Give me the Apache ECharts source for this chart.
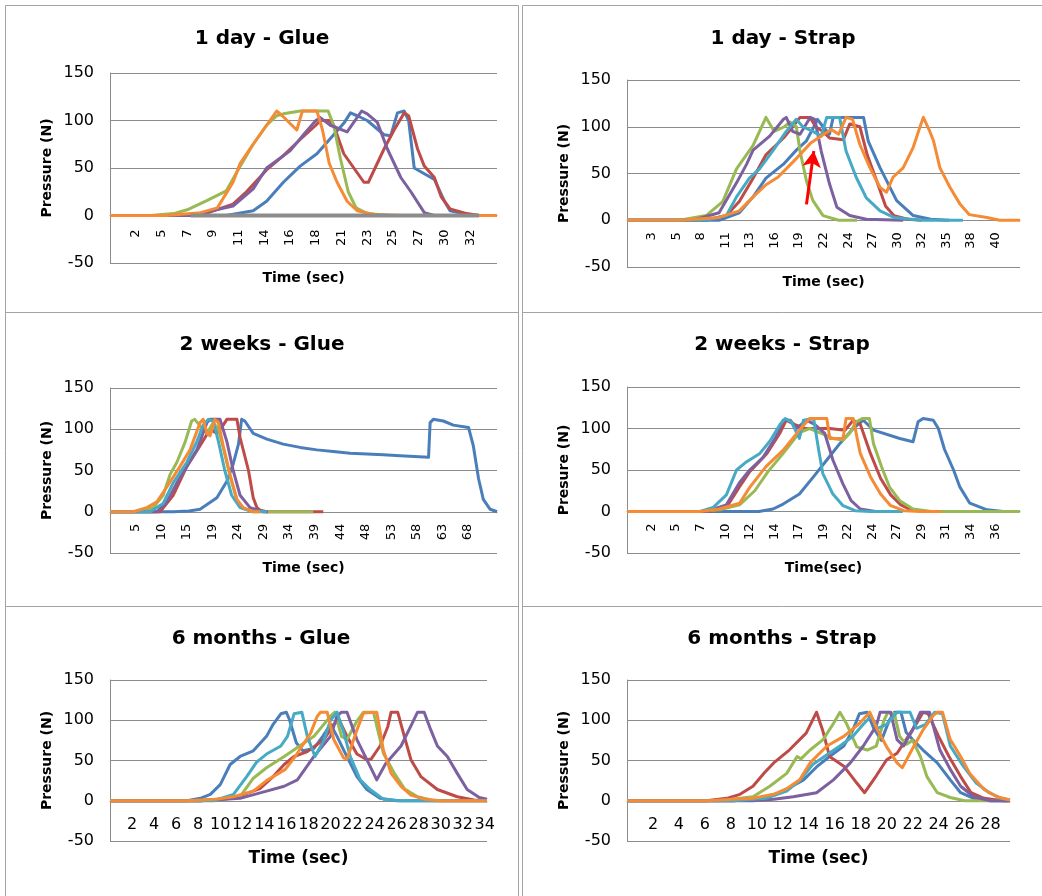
<!DOCTYPE html>
<html>
<head>
<meta charset="utf-8">
<title>Pressure vs time</title>
<script src="https://cdn.jsdelivr.net/npm/echarts/dist/echarts.min.js"></script>
<style>
  html, body { margin: 0; padding: 0; background: #fff; }
  #chart { width: 1042px; height: 896px; }
</style>
</head>
<body>
<div id="chart"></div>
<script>
// ---- data (time in sec, pressure in N) ----
var titles = ['1 day - Glue', '1 day - Strap', '2 weeks - Glue', '2 weeks - Strap', '6 months - Glue', '6 months - Strap'];
var xNames = ['Time (sec)', 'Time (sec)', 'Time (sec)', 'Time(sec)', 'Time (sec)', 'Time (sec)'];
var yNames = ['Pressure (N)', 'Pressure (N)', 'Pressure (N)', 'Presure (N)', 'Pressure (N)', 'Pressure (N)'];

var ticks1 = [2, 5, 7, 9, 11, 14, 16, 18, 21, 23, 25, 27, 30, 32];
var ticks2 = [3, 5, 8, 11, 13, 16, 19, 22, 24, 27, 30, 32, 35, 38, 40];
var ticks3 = [5, 10, 15, 19, 24, 29, 34, 39, 44, 48, 53, 58, 63, 68];
var ticks4 = [2, 5, 7, 10, 12, 14, 17, 19, 22, 24, 27, 29, 31, 34, 36];
var ticks5 = [2, 4, 6, 8, 10, 12, 14, 16, 18, 20, 22, 24, 26, 28, 30, 32, 34];
var ticks6 = [2, 4, 6, 8, 10, 12, 14, 16, 18, 20, 22, 24, 26, 28];

// 1 day - Glue
var d1gBlue = [[0,0],[10.4,0],[12.8,5],[14,15],[15.5,35],[17,52],[18.5,65],[20,85],[20.9,97],[21.5,108],[22.1,105],[23,100],[24.5,85],[25.1,84],[25.7,108],[26.3,110],[26.7,100],[27.2,50],[28.1,44],[29,38],[29.9,15],[30.4,5],[32,1],[33,0]];
var d1gRed = [[0,0],[8,0],[11,12],[12.2,25],[14,48],[15.5,63],[17,80],[18.4,95],[18.8,100],[19.6,100],[20,95],[20.9,65],[21.8,50],[22.7,35],[23.1,35],[24.5,70],[25.4,90],[26.3,108],[26.7,105],[27.5,70],[28.1,52],[29,40],[29.6,20],[30.4,7],[31.9,2],[33,0]];
var d1gGreen = [[0,0],[3.6,0],[5.7,2],[6.9,6],[8.7,16],[10.4,26],[11.6,51],[12.8,75],[14,95],[14.9,105],[15.5,107],[17,110],[19.5,110],[20,95],[20.6,60],[21.3,25],[22,8],[23,2],[25,0],[33,0]];
var d1gPurple = [[0,0],[7.2,0],[11,10],[12.8,28],[14,50],[16.1,68],[17.3,85],[18.4,100],[18.8,103],[19.7,95],[21.2,88],[22.5,110],[23,107],[23.9,98],[24.8,70],[26,40],[26.9,25],[28.1,3],[29,0],[33,0]];
var d1gOrange = [[0,0],[5,0],[8.1,3],[9.6,8],[11,35],[11.6,54],[12.5,70],[13.4,85],[14.3,100],[14.9,110],[15.4,105],[16.7,90],[17.2,110],[18.5,110],[19,90],[19.6,55],[20.3,35],[21.2,15],[22.1,5],[23.6,1],[26,0],[34.6,0]];
var d1gGray = [[7.2,0],[33,0]];

// 1 day - Strap
var d1sBlue = [[0,0],[10,0],[12.2,8],[13.7,25],[15.1,45],[17,60],[18.4,75],[19.5,85],[20.3,100],[20.7,108],[21.3,100],[22,92],[22.4,110],[25.7,110],[26.2,85],[27.5,56],[29.3,21],[31.1,5],[33,1],[35,0]];
var d1sRed = [[0,0],[8.6,0],[10.8,5],[12.2,20],[13.7,45],[15.1,70],[17,88],[18,100],[18.8,110],[19.9,110],[20.5,100],[21.3,95],[22,88],[23.5,86],[24.2,103],[25.3,100],[26.1,70],[27.2,40],[28.1,15],[29,5],[30.5,1],[32,0]];
var d1sGreen = [[0,0],[5.7,0],[8.6,5],[10.4,20],[11.9,55],[13.7,80],[15.1,110],[16,95],[17.1,100],[17.7,105],[18.4,100],[18.8,74],[19.5,42],[20.2,21],[21.3,5],[23,0],[25,0]];
var d1sPurple = [[0,0],[7.2,0],[10,8],[11.9,40],[13,60],[13.7,75],[15.5,90],[17,108],[17.3,110],[18,95],[18.8,92],[19.9,110],[20.4,108],[21.1,74],[22,39],[22.8,14],[24.2,5],[26,1],[30,0]];
var d1sCyan = [[0,0],[8.6,0],[10.8,5],[11.9,25],[13.3,45],[14.4,55],[15.9,75],[17.3,95],[18.4,108],[19.1,100],[20.2,95],[21.1,90],[21.7,110],[23.1,110],[23.8,74],[24.9,46],[26,24],[27.5,10],[29,3],[32,0],[36.5,0]];
var d1sOrange = [[0,0],[5.7,0],[10,3],[12.2,10],[13.7,25],[15.1,38],[16.4,46],[18.2,64],[20,83],[21.1,90],[22.2,97],[23,92],[23.8,110],[24.5,108],[25.3,81],[26.4,56],[27.5,35],[28.2,30],[28.9,46],[30,56],[31.1,78],[31.8,99],[32.2,110],[32.9,95],[33.3,85],[34,56],[35.1,35],[36.2,17],[37.2,6],[39.1,3],[40.5,0],[42.7,0]];
var d1sArrow = [[19.5,17],[20.3,74]];

// 2 weeks - Glue
var w2gBlue = [[0,0],[12,0],[15,1],[17.1,3],[20.3,17],[22.2,37],[23.4,58],[24.4,82],[25,112],[25.6,110],[27.2,95],[29.8,88],[32.9,82],[36.1,78],[39.3,75],[42.4,73],[45.6,71],[48.8,70],[51.9,69],[55.1,68],[60.5,66],[60.8,108],[61.4,112],[63.3,110],[65.2,105],[68.1,102],[69,80],[70,40],[70.9,15],[72.2,3],[73.5,0]];
var w2gRed = [[0,0],[9.5,0],[12,20],[14.6,55],[17.1,80],[19,100],[20.3,95],[21.5,105],[22.2,112],[24.1,112],[24.7,90],[26.3,50],[27.2,17],[27.9,5],[28.5,2],[29.8,0],[40.5,0]];
var w2gGreen = [[0,0],[5.7,0],[8.2,5],[10.1,20],[11.4,45],[12.7,60],[14.3,85],[15.5,110],[16.1,112],[17,105],[18.4,95],[19.6,108],[20.6,100],[21.5,78],[22.8,43],[24.1,14],[25.3,4],[27.2,0],[38.6,0]];
var w2gPurple = [[0,0],[8.9,0],[10.8,12],[12.7,35],[14.6,55],[16.5,75],[18.4,108],[19,112],[20.9,112],[22.2,85],[23.4,50],[24.7,20],[26.6,5],[29.1,0],[30,0]];
var w2gCyan = [[0,0],[7.6,0],[10.1,10],[12,35],[14.6,60],[16.5,85],[17.7,105],[18.7,112],[19.6,110],[20.6,85],[21.8,50],[23.1,20],[24.7,5],[26.6,1],[29.8,0]];
var w2gOrange = [[0,0],[4.4,0],[7,5],[8.9,12],[10.8,30],[13.3,55],[15.2,75],[17.1,108],[17.7,112],[18.4,95],[19,92],[19.9,112],[20.6,108],[21.5,80],[22.8,45],[24.1,15],[25.3,5],[27.2,0],[28.5,0]];

// 2 weeks - Strap
var w2sBlue = [[0,0],[13,0],[14.4,3],[15.4,9],[17,21],[18.4,42],[19.7,62],[21,82],[22.3,100],[23.3,110],[24.3,98],[26.9,88],[28.2,84],[28.7,108],[29.2,112],[30.2,110],[30.7,100],[31.3,75],[32.2,50],[32.8,30],[33.8,10],[35.5,2],[37.1,0],[38.7,0]];
var w2sRed = [[0,0],[8.2,0],[9.8,5],[11.1,30],[12.1,48],[13.8,70],[15.1,95],[15.7,110],[16.5,105],[17.5,100],[20,100],[21.5,98],[22.3,110],[23,105],[24,70],[25,40],[26,20],[27,8],[28,2],[29.5,0]];
var w2sGreen = [[0,0],[7.2,0],[9.1,2],[11.1,8],[12.6,25],[13.9,48],[15.4,70],[17,95],[18,100],[19,95],[20.3,88],[21.3,86],[22,95],[22.6,108],[23.2,112],[23.9,112],[24.3,82],[25.1,54],[25.9,29],[26.9,13],[28.2,3],[30,0],[38.7,0]];
var w2sPurple = [[0,0],[7.8,0],[9.8,8],[11.1,35],[12.1,50],[13.4,65],[14.7,90],[15.4,110],[16.1,110],[16.7,100],[17.7,110],[18.5,105],[19.5,94],[20.3,62],[21.3,33],[22.1,13],[23,3],[24.5,0],[26,0]];
var w2sCyan = [[0,0],[7.2,0],[8.5,5],[9.8,20],[10.8,50],[11.8,60],[13.1,70],[14.1,85],[15.1,105],[15.6,112],[16.2,108],[17,88],[17.4,110],[18.4,112],[18.9,74],[19.3,46],[20.3,21],[21.3,7],[22.5,1],[24,0],[27.2,0]];
var w2sOrange = [[0,0],[7.2,0],[9.1,3],[11.1,10],[12.1,29],[13.7,54],[15.4,74],[17,98],[18,112],[19.7,112],[20,88],[21.3,88],[21.6,112],[22.3,112],[23,70],[24,42],[25,21],[26,7],[27.3,1],[29,0],[31,0]];

// 6 months - Glue
var m6gBlue = [[0,0],[7,0],[8.2,3],[9.1,8],[10,20],[10.9,45],[11.8,55],[13,62],[14.2,80],[14.8,95],[15.5,108],[16,110],[16.3,100],[16.9,72],[17.5,62],[18.5,65],[19.3,80],[20,95],[20.6,80],[21.2,63],[22.4,30],[23.3,14],[24.5,3],[26,0],[34.2,0]];
var m6gRed = [[0,0],[8.2,0],[11.2,3],[13.6,15],[14.8,30],[15.8,45],[16.7,55],[17.9,61],[19.4,76],[20.3,95],[20.8,100],[21.5,80],[22.4,58],[23.3,51],[23.7,52],[24.5,68],[25.2,92],[25.5,110],[26.1,110],[26.7,80],[27.3,51],[28.2,30],[29.7,14],[31.5,5],[33,1],[34.2,0]];
var m6gGreen = [[0,0],[8.2,0],[10.6,3],[11.8,5],[13,28],[14.2,41],[15.8,55],[18.5,80],[20,105],[20.4,110],[21,80],[21.5,76],[22.4,99],[23,110],[23.9,110],[24.8,59],[25.8,34],[26.7,15],[27.9,5],[29.4,0],[34.2,0]];
var m6gPurple = [[0,0],[8.2,0],[11.8,3],[14.2,12],[15.8,18],[17,26],[18.5,55],[20,80],[20.6,105],[21,110],[21.5,110],[22.4,76],[23.3,51],[24.2,26],[25,46],[26.4,68],[27.3,93],[27.9,110],[28.5,110],[29.1,88],[29.7,68],[30.6,55],[31.5,34],[32.4,14],[33.5,4],[34.2,2]];
var m6gCyan = [[0,0],[9.4,0],[11.2,8],[12.4,30],[13.3,48],[14.2,58],[15.5,68],[16.1,80],[16.7,108],[17.4,110],[17.9,80],[18.6,55],[19.4,75],[20,100],[20.6,110],[21.2,85],[21.8,55],[22.7,26],[23.6,14],[24.8,2],[26.4,0],[34.2,0]];
var m6gOrange = [[0,0],[7,0],[9.7,2],[11.2,5],[13,12],[14.2,25],[15.9,39],[16.8,55],[18.2,84],[18.8,105],[19.1,110],[19.7,110],[20.3,76],[21.2,53],[21.5,52],[22.4,88],[23,109],[24.2,110],[24.8,63],[25.5,34],[26.4,18],[27.3,7],[28.5,2],[30,0],[34.2,0]];

// 6 months - Strap
var m6sBlue = [[0,0],[8.2,0],[10.2,3],[11.8,10],[13.6,26],[14.6,42],[15.6,55],[16.7,68],[17.4,88],[17.9,108],[18.5,110],[19,90],[19.6,75],[20.2,100],[20.6,110],[21.1,110],[21.5,85],[22,76],[22.8,63],[23.9,47],[24.9,26],[25.7,10],[26.7,3],[28,0],[29.5,0]];
var m6sRed = [[0,0],[6.1,0],[7.7,3],[8.7,8],[9.7,18],[10.6,35],[11.3,47],[12.5,63],[13.8,84],[14.6,110],[15.1,86],[15.6,55],[16.7,43],[17.7,22],[18.3,10],[19.2,31],[20,51],[20.8,59],[21.5,76],[22.3,96],[22.8,110],[23.2,108],[24,80],[24.8,55],[25.7,30],[26.5,10],[27.5,3],[29,0],[29.5,0]];
var m6sGreen = [[0,0],[7.1,0],[9.7,5],[11,18],[12.3,34],[13.1,55],[13.4,52],[14.1,63],[15.1,76],[15.9,96],[16.4,110],[16.9,96],[17.7,67],[18.5,63],[19.2,68],[19.8,100],[20.1,110],[20.6,108],[21,80],[21.5,70],[22,75],[22.6,55],[23.1,30],[23.9,10],[24.9,4],[26,0],[29.5,0]];
var m6sPurple = [[0,0],[9.7,0],[11.3,2],[12.8,5],[14.6,10],[15.9,26],[17.2,47],[18.2,68],[19.2,93],[19.5,110],[20.3,110],[20.8,76],[21.3,68],[22,88],[22.6,110],[23.3,110],[24.1,63],[24.9,39],[25.7,18],[26.7,5],[28,0],[29.5,0]];
var m6sCyan = [[0,0],[8.2,0],[10.7,3],[12.3,12],[13.3,25],[14.3,45],[15.4,57],[16.4,68],[17.4,80],[18.2,95],[18.8,105],[19.3,90],[20,95],[20.8,110],[21.8,110],[22.3,90],[23,95],[23.7,110],[24.3,108],[24.9,68],[25.9,43],[26.9,22],[27.9,10],[28.8,3],[29.5,1]];
var m6sOrange = [[0,0],[6.1,0],[9.7,3],[11.3,8],[12.3,15],[13.3,26],[14.1,47],[15.4,68],[16.7,80],[17.9,96],[18.7,110],[19.2,91],[20,67],[20.8,47],[21.2,41],[22.1,68],[22.8,88],[23.6,106],[23.9,110],[24.3,110],[24.9,76],[25.7,55],[26.4,34],[27.5,14],[28.5,5],[29.5,1]];

var panelData = [
  { ticks: ticks1, lines: [['blue', d1gBlue], ['red', d1gRed], ['green', d1gGreen], ['purple', d1gPurple], ['orange', d1gOrange], ['gray', d1gGray]] },
  { ticks: ticks2, lines: [['blue', d1sBlue], ['red', d1sRed], ['green', d1sGreen], ['purple', d1sPurple], ['cyan', d1sCyan], ['orange', d1sOrange]], arrow: d1sArrow },
  { ticks: ticks3, lines: [['blue', w2gBlue], ['red', w2gRed], ['green', w2gGreen], ['purple', w2gPurple], ['cyan', w2gCyan], ['orange', w2gOrange]] },
  { ticks: ticks4, lines: [['blue', w2sBlue], ['red', w2sRed], ['green', w2sGreen], ['purple', w2sPurple], ['cyan', w2sCyan], ['orange', w2sOrange]] },
  { ticks: ticks5, lines: [['blue', m6gBlue], ['red', m6gRed], ['green', m6gGreen], ['purple', m6gPurple], ['cyan', m6gCyan], ['orange', m6gOrange]] },
  { ticks: ticks6, lines: [['blue', m6sBlue], ['red', m6sRed], ['green', m6sGreen], ['purple', m6sPurple], ['cyan', m6sCyan], ['orange', m6sOrange]] }
];

// ---- layout / style ----
var FONT = 'DejaVu Sans';
var GRIDC = '#8C8C8C';
var colors = { blue: '#4A7EBB', red: '#BE4B48', green: '#98B954', purple: '#7D60A0', cyan: '#46AAC5', orange: '#F58B34', gray: '#8C8C8C' };

var layout = [
  { grid: { left: 110, top: 73, width: 387, height: 190 }, tx: 262, ty: 39, xMax: 34.6, step: 2.3, rotate: 90, lSize: 13, lMargin: 14, nSize: 14, nGap: 8 },
  { grid: { left: 627, top: 80, width: 393, height: 187 }, tx: 783, ty: 39, xMax: 42.7, step: 2.67, rotate: 90, lSize: 13, lMargin: 12, nSize: 14, nGap: 8 },
  { grid: { left: 110, top: 388, width: 387, height: 165 }, tx: 262, ty: 345, xMax: 73.5, step: 4.857, rotate: 90, lSize: 13, lMargin: 12, nSize: 14, nGap: 8 },
  { grid: { left: 627, top: 387, width: 393, height: 166 }, tx: 782, ty: 345, xMax: 38.75, step: 2.42, rotate: 90, lSize: 13, lMargin: 12, nSize: 14, nGap: 8 },
  { grid: { left: 110, top: 680, width: 377, height: 161 }, tx: 261, ty: 639, xMax: 34.2, step: 2, rotate: 0, lSize: 16, lMargin: 16, nSize: 17, nGap: 9 },
  { grid: { left: 627, top: 680, width: 383, height: 161 }, tx: 782, ty: 639, xMax: 29.5, step: 2, rotate: 0, lSize: 16, lMargin: 16, nSize: 17, nGap: 9 }
];
var Y_MIN = -50, Y_MAX = 150;

function tickFmt(labels, step) {
  return function (v) {
    var k = Math.round(v / step);
    if (Math.abs(v / step - k) > 0.01) return '';
    var t = labels[k - 1];
    return t === undefined ? '' : String(t);
  };
}

var grids = [], xAxes = [], yAxes = [], series = [], titleList = [];

layout.forEach(function (L, i) {
  grids.push(Object.assign({ outerBoundsMode: 'none' }, L.grid));

  titleList.push({
    text: titles[i], left: L.tx, top: L.ty, padding: 0,
    textAlign: 'center', textVerticalAlign: 'middle',
    textStyle: { fontFamily: FONT, fontSize: 20, fontWeight: 'bold', color: '#000' }
  });

  // category-style labels sit just below the zero line (Excel axis crossing at 0)
  var zeroOffset = -L.grid.height * (0 - Y_MIN) / (Y_MAX - Y_MIN);
  var lbl = {
    rotate: L.rotate, fontSize: L.lSize, margin: L.lMargin, color: '#000', fontFamily: FONT,
    hideOverlap: false, formatter: tickFmt(panelData[i].ticks, L.step)
  };
  if (L.rotate) { lbl.align = 'right'; lbl.verticalAlign = 'middle'; }
  xAxes.push({
    type: 'value', gridIndex: i, min: 0, max: L.xMax, interval: L.step,
    position: 'bottom', offset: zeroOffset,
    axisLine: { show: true, onZero: false, lineStyle: { color: GRIDC, width: 1 } },
    axisTick: { show: false },
    splitLine: { show: false },
    axisLabel: lbl
  });
  // second axis only carries the "Time (sec)" title under the plot area
  xAxes.push({
    type: 'value', gridIndex: i, min: 0, max: 1, position: 'bottom', offset: 0,
    axisLine: { show: false, onZero: false }, axisTick: { show: false },
    axisLabel: { show: false }, splitLine: { show: false },
    name: xNames[i], nameLocation: 'middle', nameGap: L.nGap,
    nameTextStyle: { fontFamily: FONT, fontSize: L.nSize, fontWeight: 'bold', color: '#000' }
  });

  yAxes.push({
    type: 'value', gridIndex: i, min: Y_MIN, max: Y_MAX, interval: 50,
    axisLine: { show: true, lineStyle: { color: GRIDC, width: 1 } },
    axisTick: { show: false },
    splitLine: { show: true, lineStyle: { color: GRIDC, width: 1 } },
    axisLabel: { fontSize: 16, margin: 16, color: '#000', fontFamily: FONT },
    name: yNames[i], nameLocation: 'middle', nameRotate: 90, nameGap: 56,
    nameTextStyle: { fontFamily: FONT, fontSize: 14, fontWeight: 'bold', color: '#000' }
  });

  panelData[i].lines.forEach(function (ln, j) {
    var s = {
      type: 'line', xAxisIndex: 2 * i, yAxisIndex: i,
      data: ln[1], symbol: 'none', showSymbol: false, silent: true,
      lineStyle: { color: colors[ln[0]], width: ln[0] === 'gray' ? 4 : 3, join: 'round' },
      itemStyle: { color: colors[ln[0]] },
      z: 2 + j
    };
    if (panelData[i].arrow && ln[0] === 'orange') {
      s.markLine = {
        silent: true, symbol: ['none', 'arrow'], symbolSize: [14, 16],
        lineStyle: { color: '#FF0000', width: 3, type: 'solid' },
        label: { show: false },
        data: [[{ coord: panelData[i].arrow[0] }, { coord: panelData[i].arrow[1] }]]
      };
    }
    series.push(s);
  });
});

// table cell borders
var BORDER = '#A3A3A3';
function hLine(y, x1, x2) { return { type: 'line', shape: { x1: x1, y1: y, x2: x2, y2: y }, style: { stroke: BORDER, lineWidth: 1 }, silent: true }; }
function vLine(x, y1, y2) { return { type: 'line', shape: { x1: x, y1: y1, x2: x, y2: y2 }, style: { stroke: BORDER, lineWidth: 1 }, silent: true }; }
var borders = [
  vLine(5.5, 5.5, 896), vLine(518.5, 5.5, 896), vLine(522.5, 5.5, 896),
  hLine(5.5, 5.5, 518.5), hLine(5.5, 522.5, 1042),
  hLine(312.5, 5.5, 518.5), hLine(312.5, 522.5, 1042),
  hLine(606.5, 5.5, 518.5), hLine(606.5, 522.5, 1042)
];

var chart = echarts.init(document.getElementById('chart'), null, { renderer: 'canvas' });
chart.setOption({
  animation: false,
  backgroundColor: '#fff',
  textStyle: { fontFamily: FONT },
  title: titleList,
  grid: grids,
  xAxis: xAxes,
  yAxis: yAxes,
  series: series,
  graphic: borders
});
</script>
</body>
</html>
